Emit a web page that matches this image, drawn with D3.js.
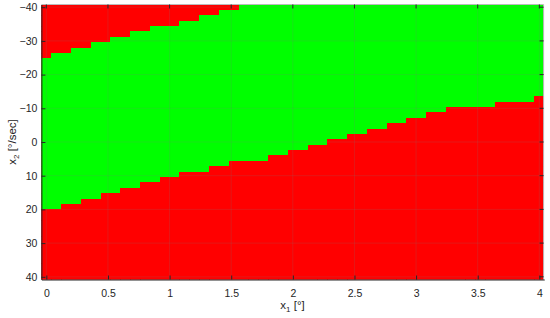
<!DOCTYPE html>
<html>
<head>
<meta charset="utf-8">
<script src="https://cdn.jsdelivr.net/npm/d3@7"></script>
<style>
  body { margin: 0; background: #fff; }
  text { font-family: "Liberation Sans", Arial, sans-serif; fill: #262626; }
</style>
</head>
<body>
<svg width="550" height="318"></svg>
<script>
// grid of x1 [deg] and x2 [deg/sec] where the region was evaluated
const x1Grid = [0, 0.08, 0.16, 0.24, 0.32, 0.4, 0.48, 0.56, 0.64, 0.72, 0.8, 0.88, 0.96, 1.04, 1.12, 1.2, 1.28,
  1.36, 1.44, 1.52, 1.6, 1.68, 1.76, 1.84, 1.92, 2, 2.08, 2.16, 2.24, 2.32, 2.4, 2.48, 2.56, 2.64, 2.72, 2.8,
  2.88, 2.96, 3.04, 3.12, 3.2, 3.28, 3.36, 3.44, 3.52, 3.6, 3.68, 3.76, 3.84, 3.92, 4];
const x2Grid = [-40, -38.4, -36.8, -35.2, -33.6, -32, -30.4, -28.8, -27.2, -25.6, -24, -22.4, -20.8, -19.2,
  -17.6, -16, -14.4, -12.8, -11.2, -9.6, -8, -6.4, -4.8, -3.2, -1.6, 0, 1.6, 3.2, 4.8, 6.4, 8, 9.6, 11.2, 12.8,
  14.4, 16, 17.6, 19.2, 20.8, 22.4, 24, 25.6, 27.2, 28.8, 30.4, 32, 33.6, 35.2, 36.8, 38.4, 40];

// per x1 column: lowest and highest x2 that lie in the green (safe) region
const safeMin = [-24, -25.6, -25.6, -27.2, -27.2, -28.8, -28.8, -30.4, -30.4, -32, -32, -33.6, -33.6, -33.6,
  -35.2, -35.2, -36.8, -36.8, -38.4, -38.4, -40, -40, -40, -40, -40, -40, -40, -40, -40, -40, -40, -40, -40,
  -40, -40, -40, -40, -40, -40, -40, -40, -40, -40, -40, -40, -40, -40, -40, -40, -40, -40];
const safeMax = [19.2, 19.2, 17.6, 17.6, 16, 16, 14.4, 14.4, 12.8, 12.8, 11.2, 11.2, 9.6, 9.6, 8, 8, 8,
  6.4, 6.4, 4.8, 4.8, 4.8, 4.8, 3.2, 3.2, 1.6, 1.6, 0, 0, -1.6, -1.6, -3.2, -3.2, -4.8, -4.8, -6.4, -6.4,
  -8, -8, -9.6, -9.6, -11.2, -11.2, -11.2, -11.2, -11.2, -12.8, -12.8, -12.8, -12.8, -14.4];

const xTicks = [0, 0.5, 1, 1.5, 2, 2.5, 3, 3.5, 4];
const yTicks = [-40, -30, -20, -10, 0, 10, 20, 30, 40];

const svg = d3.select("svg");
const plotL = 41.4, plotR = 543.6, plotT = 4.5, plotB = 279.5;

const x = d3.scaleLinear().domain([-0.04, 4.04]).range([plotL, plotL + 4.08 * 123.25]);
const y = d3.scaleLinear().domain([-40.8, 40.8]).range([plotT, plotB]);

const plot = svg.append("g");
plot.append("clipPath").attr("id", "clip")
  .append("rect").attr("x", plotL).attr("y", plotT).attr("width", plotR - plotL).attr("height", plotB - plotT);

const cells = [];
x1Grid.forEach((xv, i) => {
  x2Grid.forEach(yv => {
    cells.push({ x: xv, y: yv, safe: yv >= safeMin[i] - 1e-9 && yv <= safeMax[i] + 1e-9 });
  });
});

const img = plot.append("g").attr("clip-path", "url(#clip)").attr("shape-rendering", "crispEdges");
img.append("rect").attr("x", plotL).attr("y", plotT).attr("width", plotR - plotL).attr("height", plotB - plotT)
  .attr("fill", "#ff0000");
img.selectAll(".cell").data(cells).join("rect")
  .attr("class", "cell")
  .attr("x", d => x(d.x - 0.04))
  .attr("y", d => y(d.y - 0.8))
  .attr("width", x(0.08) - x(0) + 0.5)
  .attr("height", y(1.6) - y(0) + 0.5)
  .attr("fill", d => d.safe ? "#00ff00" : "#ff0000");

// grid lines
const grid = svg.append("g").attr("stroke", "#777").attr("stroke-opacity", 0.2).attr("stroke-width", 1);
grid.selectAll(".gx").data(xTicks).join("line")
  .attr("x1", d => x(d)).attr("x2", d => x(d)).attr("y1", plotT).attr("y2", plotB);
grid.selectAll(".gy").data(yTicks).join("line")
  .attr("x1", plotL).attr("x2", plotR).attr("y1", d => y(d)).attr("y2", d => y(d));

// box
svg.append("line").attr("x1", plotL).attr("x2", plotR).attr("y1", plotT).attr("y2", plotT).attr("stroke", "#bbb");
svg.append("line").attr("x1", plotR).attr("x2", plotR).attr("y1", plotT).attr("y2", plotB).attr("stroke", "#bbb");

// axes with inward ticks
const fmt = d3.format("");
const xAxis = svg.append("g").attr("transform", "translate(0," + plotB + ")")
  .call(d3.axisBottom(x).tickValues(xTicks).tickSizeInner(-4).tickSizeOuter(0).tickPadding(10).tickFormat(fmt));
const yAxis = svg.append("g").attr("transform", "translate(" + plotL + ",0)")
  .call(d3.axisLeft(y).tickValues(yTicks).tickSizeInner(-4).tickSizeOuter(0).tickPadding(4).tickFormat(fmt));
[xAxis, yAxis].forEach(a => {
  a.select(".domain").attr("stroke", "#262626");
  a.selectAll(".tick line").attr("stroke", "#262626");
  a.selectAll("text").attr("font-size", 10.5).attr("fill", "#262626")
    .attr("font-family", "'Liberation Sans', Arial, sans-serif");
});
// mirrored ticks on top and right
svg.append("g").selectAll("line").data(xTicks).join("line")
  .attr("x1", d => x(d)).attr("x2", d => x(d)).attr("y1", plotT).attr("y2", plotT + 4).attr("stroke", "#262626");
svg.append("g").selectAll("line").data(yTicks).join("line")
  .attr("x1", plotR).attr("x2", plotR - 4).attr("y1", d => y(d)).attr("y2", d => y(d)).attr("stroke", "#262626");

// axis labels
const xl = svg.append("text").attr("x", (plotL + plotR) / 2).attr("y", 309)
  .attr("text-anchor", "middle").attr("font-size", 11.5);
xl.append("tspan").text("x");
xl.append("tspan").attr("font-size", 8).attr("dy", 3).text("1");
xl.append("tspan").attr("dy", -3).text(" [°]");

const yl = svg.append("text").attr("transform", "translate(16," + ((plotT + plotB) / 2) + ") rotate(-90)")
  .attr("text-anchor", "middle").attr("font-size", 11.5);
yl.append("tspan").text("x");
yl.append("tspan").attr("font-size", 8).attr("dy", 3).text("2");
yl.append("tspan").attr("dy", -3).text(" [°/sec]");
</script>
</body>
</html>
